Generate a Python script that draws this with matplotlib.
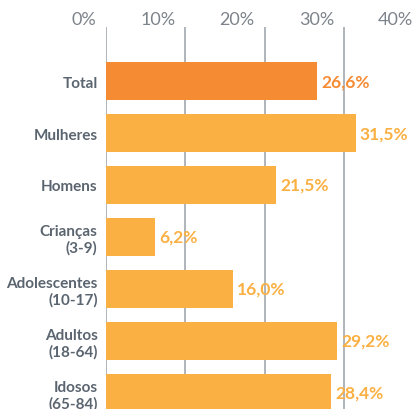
import matplotlib
matplotlib.use("Agg")
import matplotlib.pyplot as plt
from matplotlib.transforms import offset_copy

plt.rcParams['font.family'] = ['Lato', 'DejaVu Sans']

# dados
categorias = ['Total', 'Mulheres', 'Homens', 'Crianças\n(3-9)',
              'Adolescentes\n(10-17)', 'Adultos\n(18-64)', 'Idosos\n(65-84)']
valores = [26.6, 31.5, 21.5, 6.2, 16.0, 29.2, 28.4]
ticks = [0, 10, 20, 30, 40]

cor_total = '#F58B33'
cor_outros = '#FAB042'
cor_texto = '#5B6570'
cor_grade = '#9AA0A8'

fig = plt.figure(figsize=(4.18, 4.10), dpi=100)
# eixo vai um pouco alem da figura (40% fica fora, como no original)
ax = fig.add_axes([106/418, 0, 317/418, 382/410])

cores = [cor_total] + [cor_outros] * (len(valores) - 1)
ypos = list(range(len(valores)))
ax.barh(ypos, valores, height=0.73, color=cores, zorder=2)

ax.set_xlim(0, 40)
ax.set_ylim(6.31, -1.04)

for t in ticks:
    ax.axvline(t, color=cor_grade, lw=1.1, zorder=1)

# rotulos do eixo x: alinhados a direita, um pouco antes da linha
tr_tick = offset_copy(ax.get_xaxis_transform(), fig=fig, x=-7, y=0, units='points')
for t in ticks:
    ax.text(t, 1.0 + 0.0, f'{t}%', transform=tr_tick, ha='right', va='bottom',
            fontsize=13, color='#7D838B')
    # baseline ~1px acima do topo do eixo
tr_val = offset_copy(ax.transData, fig=fig, x=3, y=0, units='points')
for y, v, c in zip(ypos, valores, cores):
    ax.text(v, y, f'{v:.1f}%'.replace('.', ','), transform=tr_val,
            ha='left', va='center', fontsize=12.5, fontweight='bold', color=c)

ax.set_yticks(ypos)
ax.set_yticklabels(categorias, fontsize=11, fontweight='bold', color=cor_texto,
                   linespacing=1.15)
ax.tick_params(axis='y', length=0, pad=6)
ax.set_xticks([])
for s in ax.spines.values():
    s.set_visible(False)

fig.savefig('out.png', dpi=100)
